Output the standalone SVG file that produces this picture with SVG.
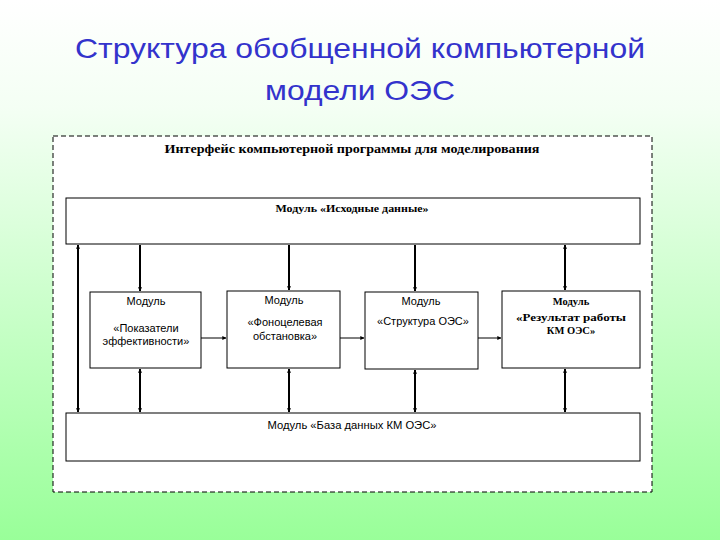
<svg xmlns="http://www.w3.org/2000/svg" width="720" height="540" viewBox="0 0 720 540">
<defs>
<linearGradient id="bg" x1="0" y1="0" x2="0" y2="1">
<stop offset="0" stop-color="#FFFFFF"/>
<stop offset="0.2" stop-color="#F4FFF4"/>
<stop offset="1" stop-color="#99FF99"/>
</linearGradient>
<marker id="ah" viewBox="0 0 6 6" refX="5.5" refY="3" markerWidth="4" markerHeight="4" orient="auto-start-reverse" markerUnits="userSpaceOnUse">
<path d="M0,0 L6,3 L0,6 z" fill="#000"/>
</marker>
<style>
.box{fill:#fff;stroke:#000;stroke-width:1}
.ln{stroke:#000;stroke-width:2;fill:none}
.hl{stroke:#000;stroke-width:1;fill:none}
.ser{font-family:"Liberation Serif","Times New Roman",serif;font-weight:bold;fill:#000;text-anchor:middle}
.san{font-family:"Liberation Sans",Arial,sans-serif;fill:#000;text-anchor:middle;font-size:11px}
.ttl{font-family:"Liberation Sans",Arial,sans-serif;fill:#3333CC;text-anchor:middle;font-size:28px}
</style>
</defs>
<rect width="720" height="540" fill="url(#bg)"/>
<g id="title">
<text class="ttl" x="360" y="58" textLength="570" lengthAdjust="spacingAndGlyphs">Структура обобщенной компьютерной</text>
<text class="ttl" x="360" y="100" textLength="190" lengthAdjust="spacingAndGlyphs">модели ОЭС</text>
</g>
<g id="interface">
<rect x="53" y="136" width="599" height="356" fill="#fff" stroke="#000" stroke-width="1" stroke-dasharray="5,3"/>
<text class="ser" x="352" y="153" font-size="12" textLength="375" lengthAdjust="spacingAndGlyphs">Интерфейс компьютерной программы для моделирования</text>
</g>
<g id="input">
<rect class="box" x="66" y="198" width="574" height="46"/>
<text class="ser" x="352" y="212" font-size="11" textLength="153" lengthAdjust="spacingAndGlyphs">Модуль «Исходные данные»</text>
</g>
<g id="m1">
<rect class="box" x="90" y="292" width="111" height="76"/>
<text class="san" x="146" y="305">Модуль</text>
<text class="san" x="146" y="332">«Показатели</text>
<text class="san" x="146" y="345">эффективности»</text>
</g>
<g id="m2">
<rect class="box" x="227" y="291" width="113" height="77"/>
<text class="san" x="284" y="304">Модуль</text>
<text class="san" x="285" y="326">«Фоноцелевая</text>
<text class="san" x="285" y="340">обстановка»</text>
</g>
<g id="m3">
<rect class="box" x="365" y="292" width="113" height="77"/>
<text class="san" x="421" y="305">Модуль</text>
<text class="san" x="423" y="325">«Структура ОЭС»</text>
</g>
<g id="m4">
<rect class="box" x="502" y="291" width="138" height="77"/>
<text class="ser" x="571" y="305" font-size="10.5">Модуль</text>
<text class="ser" x="571" y="321" font-size="10.5" textLength="110" lengthAdjust="spacingAndGlyphs">«Результат  работы</text>
<text class="ser" x="571" y="334" font-size="10.5">КМ ОЭС»</text>
</g>
<g id="db">
<rect class="box" x="66" y="413" width="574" height="48"/>
<text class="san" x="352" y="429" textLength="169" lengthAdjust="spacingAndGlyphs">Модуль «База данных КМ ОЭС»</text>
</g>
<g id="connectors">
<line class="ln" x1="78" y1="245" x2="78" y2="412" marker-start="url(#ah)" marker-end="url(#ah)"/>
<line class="ln" x1="140" y1="245" x2="140" y2="291" marker-end="url(#ah)"/>
<line class="ln" x1="289" y1="245" x2="289" y2="290" marker-end="url(#ah)"/>
<line class="ln" x1="415" y1="245" x2="415" y2="291" marker-end="url(#ah)"/>
<line class="ln" x1="565" y1="245" x2="565" y2="290" marker-start="url(#ah)" marker-end="url(#ah)"/>
<line class="ln" x1="140" y1="369" x2="140" y2="412" marker-start="url(#ah)" marker-end="url(#ah)"/>
<line class="ln" x1="289" y1="369" x2="289" y2="412" marker-start="url(#ah)" marker-end="url(#ah)"/>
<line class="ln" x1="415" y1="370" x2="415" y2="412" marker-start="url(#ah)" marker-end="url(#ah)"/>
<line class="ln" x1="565" y1="369" x2="565" y2="412" marker-start="url(#ah)" marker-end="url(#ah)"/>
<line class="hl" x1="201" y1="338" x2="226" y2="338" marker-end="url(#ah)"/>
<line class="hl" x1="340" y1="338" x2="364" y2="338" marker-end="url(#ah)"/>
<line class="hl" x1="478" y1="338" x2="501" y2="338" marker-end="url(#ah)"/>
</g>
</svg>
